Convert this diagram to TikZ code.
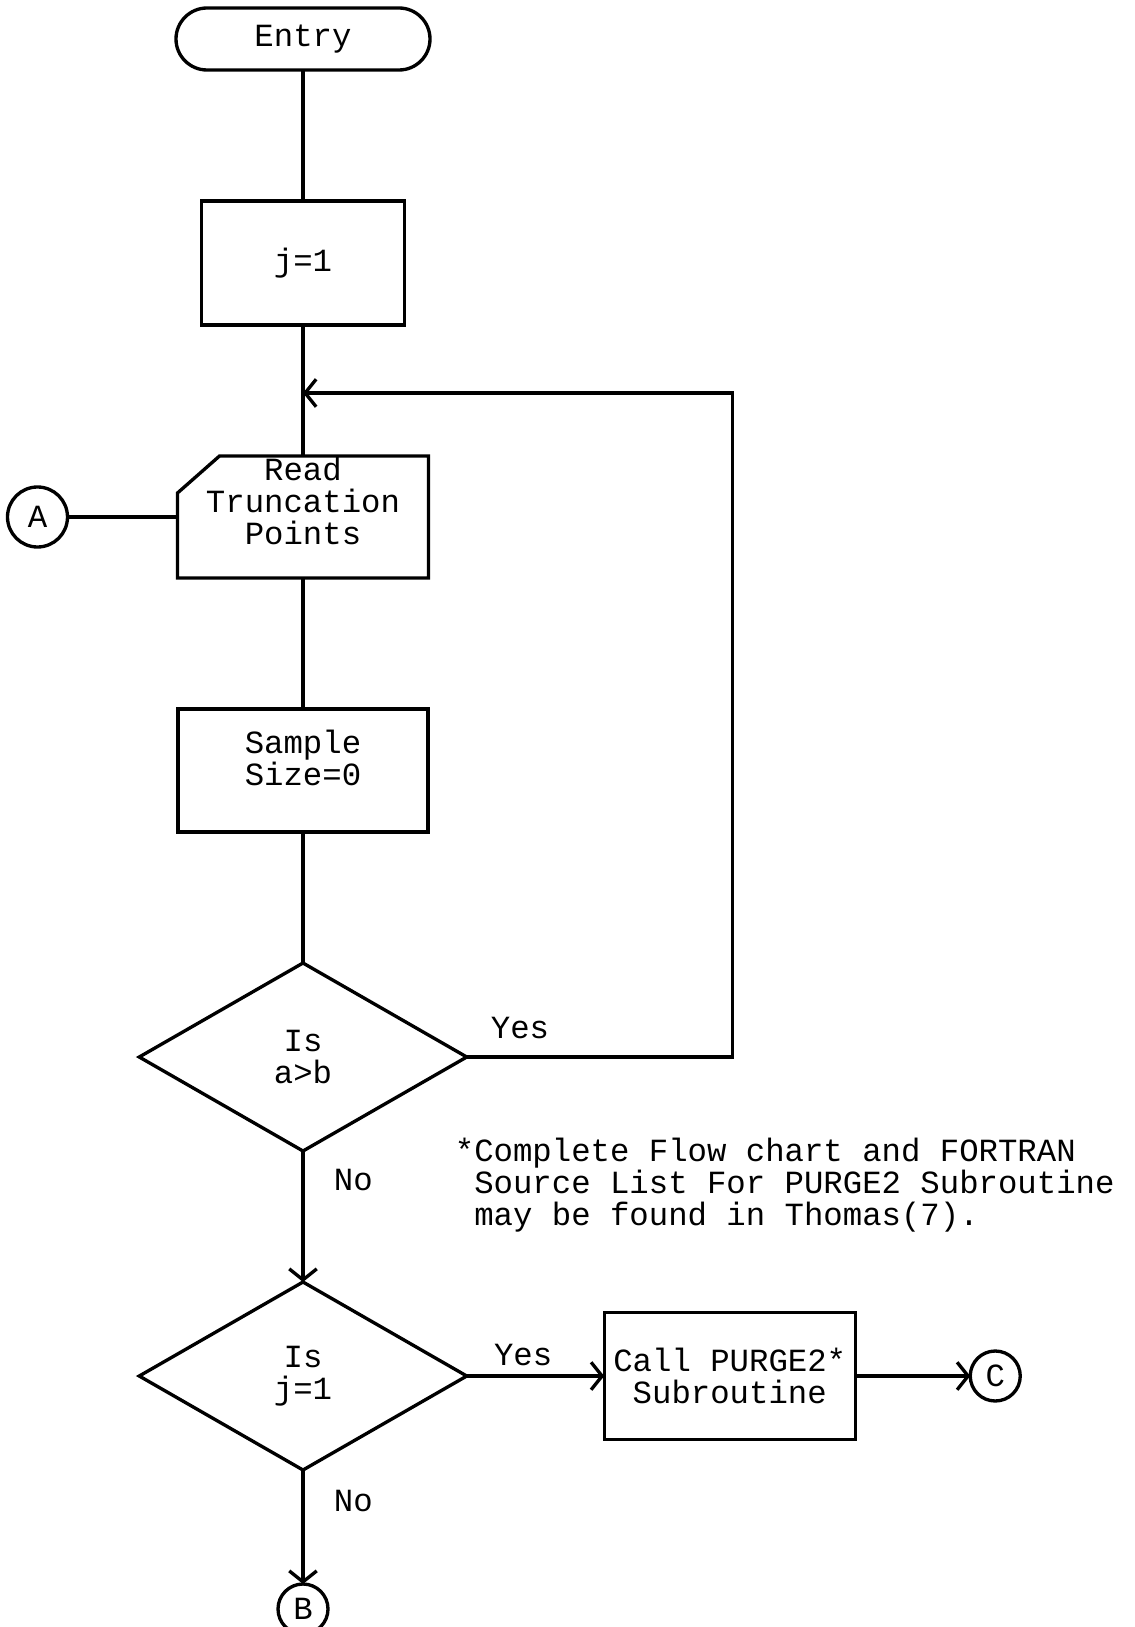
\documentclass[tikz,border=0pt]{standalone}
\usepackage{fontspec}
\setmonofont{Liberation Mono}
\usetikzlibrary{arrows.meta, positioning, shapes.geometric}

\begin{document}
\begin{tikzpicture}[
    node distance=2.62cm,
    line width=1.9pt,
    every node/.style={font=\ttfamily\fontsize{18.4}{18.2}\selectfont, outer sep=0pt},
    terminal/.style={rectangle, draw, rounded corners=0.62cm, minimum width=5.08cm, minimum height=1.24cm},
    block/.style={rectangle, draw, minimum width=5.0cm, minimum height=2.46cm, align=center},
    iobox/.style={rectangle, minimum width=5.02cm, minimum height=2.44cm},
    decision/.style={diamond, draw, minimum width=6.55cm, minimum height=3.76cm, align=center, inner sep=0pt},
    connector/.style={circle, draw, minimum size=1.0cm, inner sep=0pt},
    arrow/.style={-{Straight Barb[length=0.22cm, width=0.55cm]}}
]
    \useasboundingbox (0,0) rectangle (22.7,-32.54);

    \node[terminal] (entry) at (6.06,-0.78) {Entry};
    \node[block, minimum width=4.06cm, minimum height=2.48cm, below=of entry] (jone) {j=1};
    \node[iobox, below=of jone] (read) {};
    \node[align=center] (readtext) at ([yshift=0.32cm]read.center) {Read\\Truncation\\Points};
    \node[block, below=of read] (sample) {};
    \node[align=center] (sampletext) at ([yshift=0.26cm]sample.center) {Sample\\Size=0};
    \node[decision, below=of sample] (isab) {Is\\a>b};
    \node[decision, below=of isab] (isj) {Is\\j=1};
    \node[block, minimum width=5.02cm, minimum height=2.54cm, right=2.75cm of isj] (purge) {Call PURGE2*\\Subroutine};
    \node[connector, right=2.3cm of purge] (conC) {C};
    \node[connector, below=2.28cm of isj] (conB) {B};
    \node[connector, minimum size=1.2cm, left=2.2cm of read] (conA) {A};
    \coordinate[below=1.36cm of jone] (loop);

    \node[anchor=west, align=left] (note) at (8.98,-23.7) {*Complete Flow chart and FORTRAN\\\phantom{*}Source List For PURGE2 Subroutine\\\phantom{*}may be found in Thomas(7).};

    % input box with cut corner
    \draw (read.south west) -- ([yshift=-0.74cm]read.north west) -- ([xshift=0.84cm]read.north west) -- (read.north east) -- (read.south east) -- cycle;

    \draw (entry) -- (jone);
    \draw (jone) -- (read);
    \draw (read) -- (sample);
    \draw (sample) -- (isab);
    \draw (conA) -- (read);
    \draw[arrow] (isab.east) -- node[above, pos=0.2, yshift=0.25cm]{Yes} ++(5.32,0) |- (loop);
    \draw[arrow] (isab) -- node[right, pos=0.22, xshift=0.5cm]{No} (isj);
    \draw[arrow] (isj) -- node[above, pos=0.41, yshift=0.08cm]{Yes} (purge);
    \draw[arrow] (purge) -- (conC);
    \draw[arrow] (isj) -- node[right, pos=0.27, xshift=0.5cm]{No} (conB);
\end{tikzpicture}
\end{document}
